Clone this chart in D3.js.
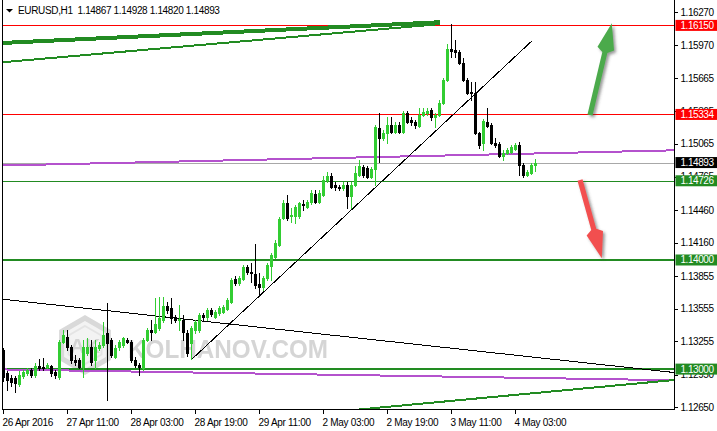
<!DOCTYPE html>
<html><head><meta charset="utf-8">
<script src="https://cdn.jsdelivr.net/npm/d3@7"></script>
<style>body{margin:0;background:#fff}svg{display:block}</style>
</head><body>
<svg id="c" width="717" height="431"></svg>
<script>
const title = "EURUSD,H1  1.14867 1.14928 1.14820 1.14893";
const opens = [1.13175,1.12965,1.12919,1.12919,1.12864,1.12937,1.12965,1.12992,1.12946,1.13029,1.13020,1.13020,1.13029,1.12974,1.12928,1.13249,1.13294,1.13203,1.13084,1.13084,1.13020,1.13148,1.13203,1.13084,1.13194,1.13221,1.13331,1.13267,1.13111,1.13203,1.13221,1.13267,1.13249,1.13084,1.13038,1.13010,1.13267,1.13359,1.13340,1.13377,1.13450,1.13578,1.13560,1.13478,1.13450,1.13450,1.13331,1.13239,1.13359,1.13359,1.13496,1.13478,1.13542,1.13478,1.13514,1.13524,1.13551,1.13615,1.13826,1.13789,1.13826,1.13936,1.13890,1.13872,1.13780,1.13753,1.13835,1.13945,1.14028,1.14137,1.14385,1.14522,1.14403,1.14403,1.14403,1.14513,1.14486,1.14532,1.14605,1.14532,1.14596,1.14733,1.14770,1.14687,1.14669,1.14660,1.14687,1.14587,1.14687,1.14779,1.14852,1.14843,1.14761,1.14834,1.15210,1.15118,1.15164,1.15237,1.15173,1.15237,1.15173,1.15347,1.15283,1.15265,1.15228,1.15329,1.15347,1.15375,1.15310,1.15329,1.15439,1.15650,1.15934,1.15924,1.15906,1.15805,1.15650,1.15540,1.15530,1.15164,1.15072,1.15265,1.15237,1.15072,1.15063,1.14953,1.14981,1.14990,1.15017,1.15054,1.14871,1.14779,1.14797,1.14867];
const highs = [1.13194,1.12983,1.12946,1.12937,1.12983,1.12992,1.13010,1.13010,1.13056,1.13093,1.13102,1.13056,1.13038,1.12992,1.13267,1.13359,1.13359,1.13221,1.13129,1.13102,1.13267,1.13285,1.13267,1.13267,1.13249,1.13432,1.13606,1.13285,1.13221,1.13267,1.13294,1.13285,1.13267,1.13111,1.13056,1.13285,1.13377,1.13450,1.13652,1.13661,1.13661,1.13615,1.13652,1.13496,1.13588,1.13496,1.13359,1.13395,1.13450,1.13514,1.13514,1.13560,1.13560,1.13542,1.13578,1.13588,1.13652,1.13835,1.13853,1.13853,1.13954,1.13954,1.13973,1.14147,1.13881,1.13853,1.13973,1.14064,1.14183,1.14394,1.14550,1.14596,1.14477,1.14504,1.14532,1.14550,1.14550,1.14642,1.14642,1.14642,1.14770,1.14806,1.14797,1.14715,1.14687,1.14715,1.14715,1.14715,1.14861,1.14916,1.14871,1.14861,1.14852,1.15237,1.15347,1.15191,1.15310,1.15310,1.15265,1.15265,1.15366,1.15366,1.15310,1.15283,1.15393,1.15393,1.15393,1.15393,1.15347,1.15466,1.15668,1.15980,1.16160,1.16016,1.15924,1.15851,1.15668,1.15631,1.15631,1.15173,1.15292,1.15393,1.15256,1.15118,1.15081,1.15008,1.15026,1.15054,1.15072,1.15081,1.14889,1.14825,1.14889,1.14928];
const lows = [1.12891,1.12809,1.12845,1.12790,1.12845,1.12919,1.12946,1.12928,1.12928,1.12992,1.12992,1.13010,1.12937,1.12919,1.12910,1.13239,1.13175,1.13056,1.13038,1.13010,1.12928,1.13129,1.13038,1.13010,1.13175,1.13203,1.12717,1.13111,1.13102,1.13175,1.13203,1.13239,1.13065,1.13020,1.12946,1.12992,1.13258,1.13267,1.13331,1.13359,1.13432,1.13514,1.13423,1.13432,1.13359,1.13267,1.13120,1.13093,1.13331,1.13340,1.13450,1.13450,1.13487,1.13469,1.13496,1.13514,1.13542,1.13606,1.13771,1.13771,1.13817,1.13872,1.13798,1.13743,1.13679,1.13725,1.13817,1.13817,1.14018,1.14128,1.14376,1.14367,1.14348,1.14339,1.14385,1.14458,1.14477,1.14513,1.14522,1.14522,1.14587,1.14715,1.14660,1.14642,1.14642,1.14642,1.14477,1.14477,1.14678,1.14770,1.14761,1.14751,1.14751,1.14687,1.14898,1.15100,1.15072,1.15164,1.15164,1.15164,1.15164,1.15256,1.15237,1.15210,1.15219,1.15320,1.15329,1.15283,1.15219,1.15320,1.15430,1.15640,1.15860,1.15860,1.15796,1.15640,1.15521,1.15466,1.15155,1.15026,1.15008,1.15219,1.15063,1.15036,1.14944,1.14916,1.14971,1.14981,1.15008,1.14779,1.14761,1.14770,1.14788,1.14820];
const closes = [1.12928,1.12900,1.12882,1.12873,1.12946,1.12974,1.12992,1.12946,1.13029,1.13010,1.13010,1.13038,1.12965,1.12946,1.13249,1.13313,1.13203,1.13084,1.13065,1.13020,1.13203,1.13203,1.13065,1.13203,1.13221,1.13313,1.13239,1.13129,1.13194,1.13249,1.13285,1.13249,1.13084,1.13038,1.13020,1.13267,1.13359,1.13340,1.13414,1.13469,1.13578,1.13542,1.13469,1.13450,1.13459,1.13340,1.13148,1.13377,1.13432,1.13496,1.13478,1.13542,1.13505,1.13524,1.13560,1.13569,1.13633,1.13817,1.13789,1.13835,1.13936,1.13890,1.13881,1.13771,1.13753,1.13835,1.13954,1.14046,1.14156,1.14376,1.14522,1.14385,1.14412,1.14486,1.14522,1.14504,1.14532,1.14614,1.14532,1.14614,1.14733,1.14770,1.14669,1.14669,1.14660,1.14687,1.14587,1.14687,1.14797,1.14861,1.14779,1.14761,1.14834,1.15219,1.15118,1.15164,1.15237,1.15173,1.15237,1.15173,1.15347,1.15265,1.15265,1.15237,1.15329,1.15356,1.15366,1.15310,1.15329,1.15439,1.15650,1.15934,1.15915,1.15906,1.15805,1.15650,1.15530,1.15530,1.15164,1.15054,1.15274,1.15228,1.15072,1.15054,1.14953,1.14981,1.15008,1.15036,1.15054,1.14871,1.14779,1.14806,1.14871,1.14893];
const xTickIndex = [0,16,32,48,64,80,96,112,128];
const xTickLabels = ["26 Apr 2016","27 Apr 11:00","28 Apr 03:00","28 Apr 19:00","29 Apr 11:00","2 May 03:00","2 May 19:00","3 May 11:00","4 May 03:00"];
const yTicks = [1.16270,1.15970,1.15665,1.15365,1.15065,1.14765,1.14460,1.14160,1.13855,1.13555,1.13255,1.12950,1.12650];
const resistancePrices = [1.16150,1.15334];
const supportPrices = [1.14726,1.14000,1.13000];
const bidPrice = 1.14893;
// trend lines: [startIndex, startPrice, endIndex, endPrice]
const greenTrendThick = [-0.25,1.15989,109.25,1.16179];
const greenTrendThin = [-0.25,1.15812,109.25,1.16162];
const greenTrendLow = [87.6,1.12625,167.75,1.12900];
const purpleTop = [-0.25,1.14866,167.75,1.15005];
const purpleLow = [-0.25,1.12997,167.75,1.12898];
const blackDown = [-0.25,1.13641,167.75,1.12969];
const blackUp = [47.2,1.13090,132.2,1.16007];
// arrows: [tailIndex, tailPrice, tipIndex, tipPrice]
const upArrow = [146.75,1.15329,152.2,1.16169];
const downArrow = [144.25,1.14733,149.7,1.14016];

const svg = d3.select("#c");
const L = 2.5, R = 674.5, B = 409.5;
const x = d3.scaleLinear().domain([-0.25, 167.75]).range([2, 674]);
const y = d3.scaleLinear().domain([1.12650, 1.16270]).range([407.3, 12.3]);
const font = "'Liberation Sans', Arial, sans-serif";

const defs = svg.append("defs");
defs.append("clipPath").attr("id","plot").append("rect").attr("x",L).attr("y",0).attr("width",R-L).attr("height",B);
const f = defs.append("filter").attr("id","sh").attr("x","-50%").attr("y","-20%").attr("width","200%").attr("height","140%");
f.append("feDropShadow").attr("dx",2).attr("dy",2).attr("stdDeviation",1.6).attr("flood-color","#444").attr("flood-opacity",0.55);

const plot = svg.append("g").attr("clip-path","url(#plot)");

// watermark
const wm = plot.append("g").attr("opacity",0.7);
const hex = (cx,cy,r)=>d3.range(6).map(k=>{const a=Math.PI/3*k - Math.PI/2; return [cx+r*Math.cos(a), cy+r*Math.sin(a)];});
wm.append("polygon").attr("points",hex(85,345,27).join(" ")).attr("fill","#efefef").attr("stroke","#c9c9c9").attr("stroke-width",5);
wm.append("polygon").attr("points",hex(85,345,19).join(" ")).attr("fill","none").attr("stroke","#dadada").attr("stroke-width",2);
wm.append("text").attr("x",85).attr("y",353).attr("text-anchor","middle").attr("font-family",font).attr("font-weight","bold").attr("font-size",21).attr("fill","#c2c2c2").text("AK");
wm.append("text").attr("x",128).attr("y",358).attr("font-family",font).attr("font-weight","bold").attr("font-size",25).attr("textLength",200).attr("lengthAdjust","spacingAndGlyphs").attr("fill","#c4c4c4").text("KOLHANOV.COM");

const lines = plot.append("g").attr("shape-rendering","crispEdges");
const seg = (d, color, w) => lines.append("line")
  .attr("x1",x(d[0])).attr("y1",y(d[1])).attr("x2",x(d[2])).attr("y2",y(d[3]))
  .attr("stroke",color).attr("stroke-width",w);

// horizontal levels
lines.append("line").attr("x1",L).attr("x2",R).attr("y1",Math.round(y(bidPrice))+0.5).attr("y2",Math.round(y(bidPrice))+0.5).attr("stroke","#a8a8a8").attr("stroke-width",1);
resistancePrices.forEach(p=>lines.append("line").attr("x1",L).attr("x2",R).attr("y1",Math.round(y(p))+0.5).attr("y2",Math.round(y(p))+0.5).attr("stroke","#ff0000").attr("stroke-width",1));
supportPrices.forEach((p,i)=>{
  const w = i===0?1:2;
  const yy = i===0 ? Math.round(y(p))+0.5 : Math.round(y(p));
  lines.append("line").attr("x1",L).attr("x2",R).attr("y1",yy).attr("y2",yy).attr("stroke","#228b22").attr("stroke-width",w);
});

// trend lines
seg(purpleTop, "#b452cd", 2);
seg(purpleLow, "#b452cd", 2);
seg(greenTrendThick, "#228b22", 4);
seg(greenTrendThin, "#228b22", 2);
seg(greenTrendLow, "#228b22", 2);
seg(blackDown, "#000", 1);
seg(blackUp, "#000", 1);

// candles
const bars = d3.range(opens.length).map(i=>({i,o:opens[i],h:highs[i],l:lows[i],c:closes[i]}));
const cg = plot.append("g").attr("shape-rendering","crispEdges");
bars.forEach(d=>{
  const up = d.c >= d.o;
  const col = up ? "#32cd32" : "#000000";
  const cx = Math.round(x(d.i));
  cg.append("line").attr("x1",cx+0.5).attr("x2",cx+0.5).attr("y1",Math.round(y(d.h))).attr("y2",Math.round(y(d.l))+1).attr("stroke",col).attr("stroke-width",1);
  const top = Math.round(y(Math.max(d.o,d.c))), bot = Math.round(y(Math.min(d.o,d.c)));
  cg.append("rect").attr("x",cx-1).attr("width",3).attr("y",top).attr("height",Math.max(1,bot-top+1)).attr("fill",col);
});

// arrows
function arrow(d, color){
  const x1=x(d[0]), y1=y(d[1]), x2=x(d[2]), y2=y(d[3]);
  const dx=x2-x1, dy=y2-y1, len=Math.hypot(dx,dy), ux=dx/len, uy=dy/len, px=-uy, py=ux;
  const sw=2.6, hw=8.5, hl=30;
  const bx=x2-ux*hl, by=y2-uy*hl;
  const pts=[[x1+px*sw,y1+py*sw],[bx+px*sw,by+py*sw],[bx+px*hw+ux*4,by+py*hw+uy*4],[x2,y2],[bx-px*hw+ux*4,by-py*hw+uy*4],[bx-px*sw,by-py*sw],[x1-px*sw,y1-py*sw]];
  plot.append("polygon").attr("points",pts.map(p=>p.join(",")).join(" ")).attr("fill",color).attr("filter","url(#sh)");
}
arrow(upArrow, "#4caa4c");
arrow(downArrow, "#f25050");

// frame
const fr = svg.append("g").attr("shape-rendering","crispEdges");
fr.append("line").attr("x1",L).attr("x2",L).attr("y1",0).attr("y2",B).attr("stroke","#000");
fr.append("line").attr("x1",R).attr("x2",R).attr("y1",0).attr("y2",B+0.5).attr("stroke","#000");
fr.append("line").attr("x1",L).attr("x2",R).attr("y1",B).attr("y2",B).attr("stroke","#000");

// right axis
const ya = svg.append("g").attr("transform",`translate(${R},0)`)
  .call(d3.axisRight(y).tickValues(yTicks).tickSize(3).tickPadding(3).tickFormat(d3.format(".5f")));
ya.select(".domain").remove();
ya.selectAll("text").attr("font-family",font).attr("font-size",10).attr("letter-spacing","-0.45px").attr("fill","#000");
ya.selectAll("line").attr("stroke","#000").attr("shape-rendering","crispEdges");

// bottom axis
const xa = svg.append("g").attr("transform",`translate(0,${B})`)
  .call(d3.axisBottom(x).tickValues(xTickIndex).tickSize(4).tickPadding(3).tickFormat((d,i)=>xTickLabels[i]));
xa.select(".domain").remove();
xa.selectAll("text").attr("text-anchor","start").attr("dx",-1).attr("dy","0.9em").attr("font-family",font).attr("font-size",10).attr("letter-spacing","-0.3px").attr("fill","#000");
xa.selectAll("line").attr("stroke","#000").attr("shape-rendering","crispEdges");

// price boxes
function box(p, bg){
  const yc = y(p);
  const g = svg.append("g");
  g.append("rect").attr("x",R+1).attr("y",yc-5.5).attr("width",717-R-1).attr("height",11).attr("fill",bg);
  g.append("text").attr("x",R+6).attr("y",yc).attr("dy","0.35em").attr("font-family",font).attr("font-size",10).attr("letter-spacing","-0.45px").attr("fill","#fff").text(d3.format(".5f")(p));
}
resistancePrices.forEach(p=>box(p,"#ff0000"));
box(bidPrice,"#000000");
supportPrices.forEach(p=>box(p,"#228b22"));

// title
svg.append("polygon").attr("points","6,9 13,9 9.5,12.5").attr("fill","#000");
svg.append("text").attr("x",18).attr("y",14).attr("font-family",font).attr("font-size",10).attr("letter-spacing","-0.35px").attr("fill","#000").style("white-space","pre").text(title);
</script>
</body></html>
